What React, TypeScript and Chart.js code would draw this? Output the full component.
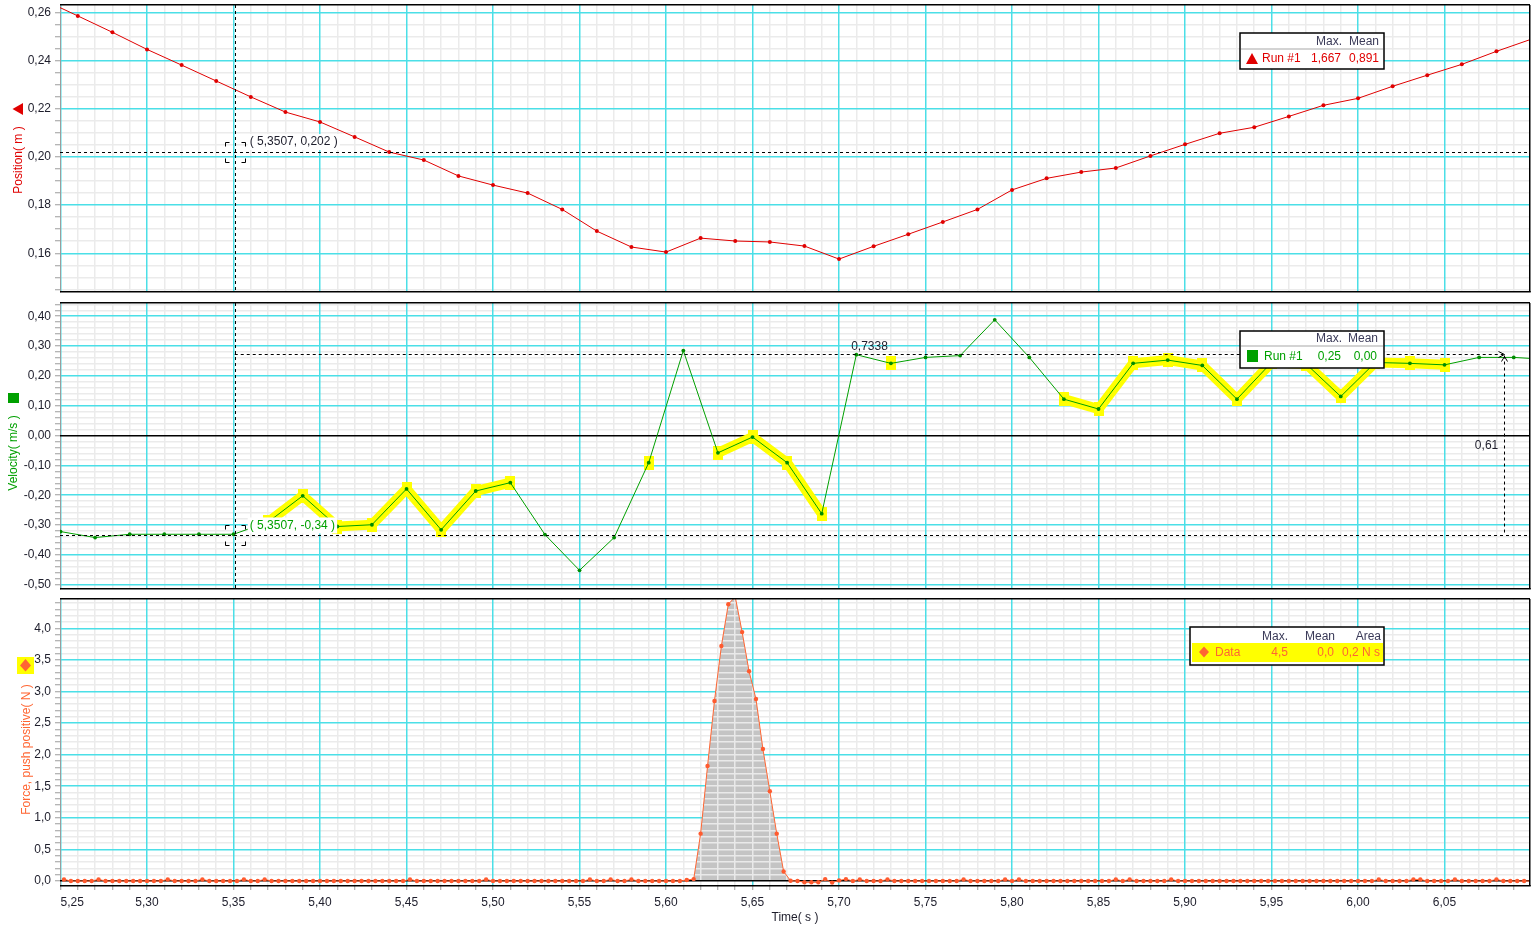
import React, { useEffect, useRef } from 'react';
import { Chart, registerables } from 'chart.js';

Chart.register(...registerables);

const FONT = '"Liberation Sans", Arial, Helvetica, sans-serif';
const TEXT = '#1d1d2b';
const HEAD = '#3a3a58';
const CYAN = '#4bdfe7';
const MINOR = '#ebebeb';
const TICKC = '#9c9c9c';
const RED = '#e00000';
const GREEN = '#00a000';
const GREEN_PT = '#008c00';
const ORANGE = '#ff6633';
const ORANGE_PT = '#ff5a2e';
const YELLOW = '#ffff00';

// shared time axis
const X_MIN = 5.2497;
const X_MAX = 6.0994;
const X_STEP = 0.01;
const X_MAJOR = 0.05;

// panel y ranges
const POS_MIN = 0.14394, POS_MAX = 0.26303, POS_STEP = 0.005, POS_MAJOR = 0.02;
const VEL_MIN = -0.5145, VEL_MAX = 0.4444, VEL_STEP = 0.02, VEL_MAJOR = 0.1;
const F_MIN = -0.079, F_MAX = 4.464, F_STEP = 0.1, F_MAJOR = 0.5;

// Position (m)
const POS_T = [5.24, 5.26, 5.28, 5.30, 5.32, 5.34, 5.36, 5.38, 5.40, 5.42, 5.44, 5.46, 5.48, 5.50, 5.52, 5.54, 5.56, 5.58, 5.60, 5.62, 5.64, 5.66, 5.68, 5.70, 5.72, 5.74, 5.76, 5.78, 5.80, 5.82, 5.84, 5.86, 5.88, 5.90, 5.92, 5.94, 5.96, 5.98, 6.00, 6.02, 6.04, 6.06, 6.08, 6.10];
const POS_M = [0.2652, 0.2585, 0.2517, 0.2446, 0.2381, 0.2315, 0.2249, 0.2186, 0.2145, 0.2083, 0.2020, 0.1987, 0.1921, 0.1883, 0.1850, 0.1782, 0.1692, 0.1626, 0.1605, 0.1663, 0.1651, 0.1647, 0.1630, 0.1576, 0.1629, 0.1679, 0.1730, 0.1782, 0.1863, 0.1911, 0.1937, 0.1954, 0.2004, 0.2052, 0.2098, 0.2123, 0.2168, 0.2214, 0.2243, 0.2293, 0.2339, 0.2384, 0.2438, 0.2488];

// Velocity (m/s)
const VEL_T = [5.25, 5.27, 5.29, 5.31, 5.33, 5.35, 5.37, 5.39, 5.41, 5.43, 5.45, 5.47, 5.49, 5.51, 5.53, 5.55, 5.57, 5.59, 5.61, 5.63, 5.65, 5.67, 5.69, 5.71, 5.73, 5.75, 5.77, 5.79, 5.81, 5.83, 5.85, 5.87, 5.89, 5.91, 5.93, 5.95, 5.97, 5.99, 6.01, 6.03, 6.05, 6.07, 6.09, 6.11];
const VEL_MS = [-0.322, -0.342, -0.331, -0.331, -0.331, -0.331, -0.29, -0.202, -0.305, -0.299, -0.179, -0.316, -0.186, -0.158, -0.332, -0.452, -0.342, -0.091, 0.285, -0.058, -0.005, -0.091, -0.262, 0.271, 0.242, 0.262, 0.268, 0.388, 0.262, 0.122, 0.089, 0.242, 0.253, 0.235, 0.122, 0.245, 0.24, 0.131, 0.245, 0.242, 0.237, 0.262, 0.262, 0.255];
const VEL_SELECTED = [0, 0, 0, 0, 0, 0, 1, 1, 1, 1, 1, 1, 1, 1, 0, 0, 0, 1, 0, 1, 1, 1, 1, 0, 1, 0, 0, 0, 0, 1, 1, 1, 1, 1, 1, 1, 1, 1, 1, 1, 1, 0, 0, 0];

// Force (N)
const FORCE_T = [
  5.252, 5.256, 5.26, 5.264, 5.268, 5.272, 5.276, 5.28, 5.284, 5.288,
  5.292, 5.296, 5.3, 5.304, 5.308, 5.312, 5.316, 5.32, 5.324, 5.328,
  5.332, 5.336, 5.34, 5.344, 5.348, 5.352, 5.356, 5.36, 5.364, 5.368,
  5.372, 5.376, 5.38, 5.384, 5.388, 5.392, 5.396, 5.4, 5.404, 5.408,
  5.412, 5.416, 5.42, 5.424, 5.428, 5.432, 5.436, 5.44, 5.444, 5.448,
  5.452, 5.456, 5.46, 5.464, 5.468, 5.472, 5.476, 5.48, 5.484, 5.488,
  5.492, 5.496, 5.5, 5.504, 5.508, 5.512, 5.516, 5.52, 5.524, 5.528,
  5.532, 5.536, 5.54, 5.544, 5.548, 5.552, 5.556, 5.56, 5.564, 5.568,
  5.572, 5.576, 5.58, 5.584, 5.588, 5.592, 5.596, 5.6, 5.604, 5.608,
  5.612, 5.616, 5.62, 5.624, 5.628, 5.632, 5.636, 5.64, 5.644, 5.648,
  5.652, 5.656, 5.66, 5.664, 5.668, 5.672, 5.676, 5.68, 5.684, 5.688,
  5.692, 5.696, 5.7, 5.704, 5.708, 5.712, 5.716, 5.72, 5.724, 5.728,
  5.732, 5.736, 5.74, 5.744, 5.748, 5.752, 5.756, 5.76, 5.764, 5.768,
  5.772, 5.776, 5.78, 5.784, 5.788, 5.792, 5.796, 5.8, 5.804, 5.808,
  5.812, 5.816, 5.82, 5.824, 5.828, 5.832, 5.836, 5.84, 5.844, 5.848,
  5.852, 5.856, 5.86, 5.864, 5.868, 5.872, 5.876, 5.88, 5.884, 5.888,
  5.892, 5.896, 5.9, 5.904, 5.908, 5.912, 5.916, 5.92, 5.924, 5.928,
  5.932, 5.936, 5.94, 5.944, 5.948, 5.952, 5.956, 5.96, 5.964, 5.968,
  5.972, 5.976, 5.98, 5.984, 5.988, 5.992, 5.996, 6.0, 6.004, 6.008,
  6.012, 6.016, 6.02, 6.024, 6.028, 6.032, 6.036, 6.04, 6.044, 6.048,
  6.052, 6.056, 6.06, 6.064, 6.068, 6.072, 6.076, 6.08, 6.084, 6.088,
  6.092, 6.096, 6.1,
];
const FORCE_N = [
  0.025, 0, 0, 0, 0, 0.025, 0, 0, 0, 0,
  0, 0, 0, 0, 0, 0.025, 0, 0, 0, 0,
  0.025, 0, 0, 0, 0, 0, 0.025, 0, 0, 0.025,
  0, 0, 0, 0, 0, 0, 0, 0, 0, 0,
  0, 0, 0, 0, 0, 0, 0, 0, 0, 0,
  0.025, 0, 0, 0, 0, 0, 0, 0, 0, 0,
  0, 0.025, 0, 0, 0, 0, 0, 0, 0, 0,
  0, 0, 0, 0, 0, 0, 0.025, 0, 0, 0.025,
  0, 0, 0.025, 0, 0, 0, 0, 0, 0, 0,
  0.016, 0.03, 0.75, 1.82, 2.85, 3.72, 4.38, 4.5, 3.94, 3.32,
  2.88, 2.09, 1.42, 0.75, 0.15, 0.005, 0, -0.02, -0.02, -0.02,
  0.03, -0.025, 0.01, 0.03, 0, 0.025, 0, 0, 0, 0.025,
  0, 0, 0, 0, 0, 0, 0, 0, 0, 0,
  0.025, 0, 0, 0, 0, 0, 0.025, 0, 0.025, 0,
  0, 0, 0, 0, 0, 0, 0, 0, 0, 0,
  0, 0, 0.025, 0, 0.025, 0, 0, 0, 0, 0,
  0.025, 0, 0, 0, 0, 0, 0, 0, 0, 0,
  0, 0, 0, 0, 0, 0, 0, 0, 0, 0,
  0, 0, 0, 0, 0, 0, 0, 0, 0, 0,
  0.025, 0, 0, 0, 0, 0.025, 0.025, 0, 0, 0,
  0, 0.025, 0, 0, 0, 0, 0, 0.025, 0, 0,
  0, 0, 0,
];
const FILL_FROM = 5.616;
const FILL_TO = 5.672;

// cursor / delta annotations
const CURSOR_T = 5.3507;
const CURSOR_POS = 0.202;
const CURSOR_VEL = -0.335;
const DELTA_T = 0.7338;
const DELTA_V = 0.61;
const CURSOR_POS_LABEL = '( 5,3507, 0,202 )';
const CURSOR_VEL_LABEL = '( 5,3507, -0,34 )';
const DELTA_T_LABEL = '0,7338';
const DELTA_V_LABEL = '0,61';

// legends
const LEG_HEAD_2 = ['Max.', 'Mean'];
const LEG_HEAD_3 = ['Max.', 'Mean', 'Area'];
const LEG_POS = ['Run #1', '1,667', '0,891'];
const LEG_VEL = ['Run #1', '0,25', '0,00'];
const LEG_FORCE = ['Data', '4,5', '0,0', '0,2 N s'];

const TITLE_POS = 'Position( m )';
const TITLE_VEL = 'Velocity( m/s )';
const TITLE_FORCE = 'Force, push positive( N )';
const TITLE_TIME = 'Time( s )';

const isMult = (v: number, m: number) => Math.abs(v / m - Math.round(v / m)) < 1e-6;
const fmt = (v: number, d: number) => (Math.abs(v) < 1e-9 ? 0 : v).toFixed(d).replace('.', ',');
function stepTicks(min: number, max: number, step: number) {
  const out: { value: number }[] = [];
  const k0 = Math.ceil(min / step - 1e-6);
  const k1 = Math.floor(max / step + 1e-6);
  for (let k = k0; k <= k1; k++) out.push({ value: Number((k * step).toFixed(6)) });
  return out;
}
const font12 = { family: FONT, size: 12 };

function xScale(showLabels: boolean) {
  return {
    type: 'linear',
    position: 'bottom',
    bounds: 'data',
    min: X_MIN,
    max: X_MAX,
    afterBuildTicks: (s: any) => { s.ticks = stepTicks(X_MIN, X_MAX, X_STEP); },
    afterFit: (s: any) => {
      s.height = showLabels ? 45 : 0;
      s.paddingLeft = 0; s.paddingRight = 0; s.paddingTop = 0; s.paddingBottom = 0;
    },
    ticks: {
      display: showLabels, autoSkip: false, maxRotation: 0, minRotation: 0, align: 'inner',
      padding: 5, color: TEXT, font: font12,
      callback: (v: number) => (isMult(v, X_MAJOR) ? fmt(v, 2) : ''),
    },
    grid: {
      color: (c: any) => (c.tick && isMult(c.tick.value, X_MAJOR) ? CYAN : 'rgba(0,0,0,0)'),
      lineWidth: 1.5, drawTicks: showLabels, tickLength: 4, tickColor: TICKC, tickWidth: 1,
    },
    border: { display: false },
    title: { display: showLabels, text: TITLE_TIME, color: TEXT, font: font12, padding: { top: 0, bottom: 6 } },
  };
}

function yScale(min: number, max: number, step: number, major: number, dec: number) {
  return {
    type: 'linear',
    position: 'left',
    bounds: 'data',
    min, max,
    afterBuildTicks: (s: any) => { s.ticks = stepTicks(min, max, step); },
    afterFit: (s: any) => {
      s.width = 60;
      s.paddingLeft = 0; s.paddingRight = 0; s.paddingTop = 0; s.paddingBottom = 0;
    },
    ticks: {
      autoSkip: false, padding: 4, color: TEXT, font: font12,
      callback: (v: number) => (isMult(v, major) ? fmt(v, dec) : ''),
    },
    grid: {
      color: (c: any) => (c.tick && isMult(c.tick.value, major) && Math.abs(c.tick.value) > 1e-9 ? CYAN : 'rgba(0,0,0,0)'),
      lineWidth: 1.5, tickLength: 5, tickColor: TICKC, tickWidth: 1,
    },
    border: { display: true, color: TICKC, width: 1 },
  };
}

// ---------- drawing helpers ----------
function txt(ctx: CanvasRenderingContext2D, s: string, x: number, y: number, align: CanvasTextAlign, color: string) {
  ctx.font = `12px ${FONT}`;
  ctx.fillStyle = color;
  ctx.textAlign = align;
  ctx.textBaseline = 'middle';
  ctx.fillText(s, x, y);
}
function dashedLine(ctx: CanvasRenderingContext2D, x1: number, y1: number, x2: number, y2: number) {
  ctx.save();
  ctx.strokeStyle = '#000';
  ctx.lineWidth = 1;
  ctx.setLineDash([3, 3]);
  ctx.beginPath();
  if (x1 === x2) {
    const x = Math.round(x1) + 0.5;
    ctx.moveTo(x, y1); ctx.lineTo(x, y2);
  } else {
    const y = Math.round(y1) + 0.5;
    ctx.moveTo(x1, y); ctx.lineTo(x2, y);
  }
  ctx.stroke();
  ctx.restore();
}
function brackets(ctx: CanvasRenderingContext2D, cx: number, cy: number) {
  const x1 = Math.round(cx - 10) + 0.5, x2 = Math.round(cx + 10) + 0.5;
  const y1 = Math.round(cy - 10) + 0.5, y2 = Math.round(cy + 10) + 0.5;
  const L = 4;
  ctx.save();
  ctx.strokeStyle = '#000';
  ctx.lineWidth = 1;
  ctx.beginPath();
  ctx.moveTo(x1, y1 + L); ctx.lineTo(x1, y1); ctx.lineTo(x1 + L, y1);
  ctx.moveTo(x2 - L, y1); ctx.lineTo(x2, y1); ctx.lineTo(x2, y1 + L);
  ctx.moveTo(x1, y2 - L); ctx.lineTo(x1, y2); ctx.lineTo(x1 + L, y2);
  ctx.moveTo(x2 - L, y2); ctx.lineTo(x2, y2); ctx.lineTo(x2, y2 - L);
  ctx.stroke();
  ctx.restore();
}
function boxedLabel(ctx: CanvasRenderingContext2D, s: string, x: number, y: number, color: string) {
  ctx.font = `12px ${FONT}`;
  const w = ctx.measureText(s).width;
  ctx.fillStyle = '#fff';
  ctx.fillRect(x - 2, y - 8, w + 4, 16);
  txt(ctx, s, x, y, 'left', color);
}
function legendFrame(ctx: CanvasRenderingContext2D, x: number, y: number, w: number, h: number) {
  ctx.fillStyle = '#fff';
  ctx.fillRect(x, y, w, h);
  ctx.strokeStyle = '#000';
  ctx.lineWidth = 1.5;
  ctx.strokeRect(x, y, w, h);
}
function rotTitle(ctx: CanvasRenderingContext2D, s: string, x: number, y: number, color: string) {
  ctx.save();
  ctx.translate(x, y);
  ctx.rotate(-Math.PI / 2);
  txt(ctx, s, 0, 0, 'center', color);
  ctx.restore();
}

type Spec = {
  major: number;
  zero?: boolean;
  fill?: boolean;
  annotate?: (chart: any) => void;
  decorate?: (chart: any) => void;
};

function panelPlugin(spec: Spec) {
  return {
    id: 'panel',
    beforeDraw(chart: any) {
      const { ctx, chartArea: a, scales } = chart;
      const x = scales.x, y = scales.y;
      ctx.save();
      ctx.fillStyle = MINOR;
      for (const t of x.ticks) {
        if (isMult(t.value, X_MAJOR)) continue;
        const p = Math.round(x.getPixelForValue(t.value) - 0.75);
        ctx.fillRect(p, a.top, 1.5, a.bottom - a.top);
      }
      for (const t of y.ticks) {
        if (isMult(t.value, spec.major)) continue;
        const p = Math.round(y.getPixelForValue(t.value) - 0.75);
        ctx.fillRect(a.left, p, a.right - a.left, 1.5);
      }
      ctx.restore();
    },
    beforeDatasetsDraw(chart: any) {
      const { ctx, chartArea: a, scales } = chart;
      const x = scales.x, y = scales.y;
      if (spec.fill) {
        const meta = chart.getDatasetMeta(0);
        const pts = meta.data;
        let i0 = 0, i1 = 0;
        FORCE_T.forEach((t, i) => {
          if (Math.abs(t - FILL_FROM) < 1e-6) i0 = i;
          if (Math.abs(t - FILL_TO) < 1e-6) i1 = i;
        });
        const y0 = y.getPixelForValue(0);
        ctx.save();
        ctx.beginPath();
        ctx.rect(a.left, a.top, a.right - a.left, a.bottom - a.top);
        ctx.clip();
        ctx.beginPath();
        ctx.moveTo(pts[i0].x, y0);
        for (let i = i0; i <= i1; i++) ctx.lineTo(pts[i].x, pts[i].y);
        ctx.lineTo(pts[i1].x, y0);
        ctx.closePath();
        ctx.fillStyle = '#c4c4c4';
        ctx.fill();
        ctx.clip();
        ctx.fillStyle = '#e9e9e9';
        for (const t of x.ticks) {
          const p = Math.round(x.getPixelForValue(t.value) - 0.75);
          ctx.fillRect(p, a.top, 1.5, a.bottom - a.top);
        }
        for (const t of y.ticks) {
          const p = Math.round(y.getPixelForValue(t.value) - 0.75);
          ctx.fillRect(a.left, p, a.right - a.left, 1.5);
        }
        ctx.restore();
      }
      if (spec.zero) {
        const p = Math.round(y.getPixelForValue(0) - 0.75);
        ctx.fillStyle = '#000';
        ctx.fillRect(a.left, p, a.right - a.left, 1.5);
      }
    },
    afterDatasetsDraw(chart: any) {
      if (spec.annotate) spec.annotate(chart);
    },
    afterDraw(chart: any) {
      const { ctx, chartArea: a } = chart;
      if (spec.decorate) spec.decorate(chart);
      ctx.fillStyle = '#000';
      ctx.fillRect(a.left, Math.round(a.top - 0.75), a.right - a.left, 1.5);
      ctx.fillRect(a.left, Math.round(a.bottom - 0.75), a.right - a.left + 0.75, 1.5);
      ctx.fillRect(Math.round(a.right - 0.75), a.top, 1.5, a.bottom - a.top);
    },
  };
}

const baseOptions = (ySc: any, showX: boolean, padding: any) => ({
  responsive: false,
  animation: false,
  events: [],
  layout: { padding },
  plugins: { legend: { display: false }, tooltip: { enabled: false } },
  scales: { x: xScale(showX), y: ySc },
});

function positionConfig() {
  const spec: Spec = {
    major: POS_MAJOR,
    annotate(chart) {
      const { ctx, chartArea: a, scales: { x, y } } = chart;
      const cx = x.getPixelForValue(CURSOR_T);
      const cy = y.getPixelForValue(CURSOR_POS);
      dashedLine(ctx, cx, a.top, cx, a.bottom);
      dashedLine(ctx, a.left, cy, a.right, cy);
      brackets(ctx, cx, cy);
      boxedLabel(ctx, CURSOR_POS_LABEL, cx + 15, cy - 10, TEXT);
    },
    decorate(chart) {
      const { ctx } = chart;
      rotTitle(ctx, TITLE_POS, 18.5, 160, RED);
      ctx.fillStyle = RED;
      ctx.beginPath();
      ctx.moveTo(12.5, 109); ctx.lineTo(23, 103); ctx.lineTo(23, 115); ctx.closePath();
      ctx.fill();
      legendFrame(ctx, 1240, 33, 144, 36);
      ctx.fillStyle = '#a8a8a8';
      ctx.fillRect(1241, 48.5, 142, 1);
      txt(ctx, LEG_HEAD_2[0], 1342, 41.5, 'right', HEAD);
      txt(ctx, LEG_HEAD_2[1], 1379, 41.5, 'right', HEAD);
      ctx.fillStyle = RED;
      ctx.beginPath();
      ctx.moveTo(1246, 64); ctx.lineTo(1252, 53); ctx.lineTo(1258, 64); ctx.closePath();
      ctx.fill();
      txt(ctx, LEG_POS[0], 1262, 59, 'left', RED);
      txt(ctx, LEG_POS[1], 1341, 59, 'right', RED);
      txt(ctx, LEG_POS[2], 1379, 59, 'right', RED);
    },
  };
  return {
    type: 'line',
    data: {
      datasets: [{
        data: POS_T.map((t, i) => ({ x: t, y: POS_M[i] })),
        borderColor: RED, borderWidth: 1, tension: 0,
        pointRadius: 2, pointBackgroundColor: RED, pointBorderWidth: 0, clip: 0,
      }],
    },
    options: baseOptions(yScale(POS_MIN, POS_MAX, POS_STEP, POS_MAJOR, 2), false, { top: 5, bottom: 8, left: 0, right: 6 }),
    plugins: [panelPlugin(spec)],
  };
}

function velocityConfig(highlightImg: HTMLCanvasElement) {
  const spec: Spec = {
    major: VEL_MAJOR,
    zero: true,
    annotate(chart) {
      const { ctx, chartArea: a, scales: { x, y } } = chart;
      const cx = x.getPixelForValue(CURSOR_T);
      const cy = y.getPixelForValue(CURSOR_VEL);
      const ex = x.getPixelForValue(CURSOR_T + DELTA_T);
      const ty = y.getPixelForValue(CURSOR_VEL + DELTA_V);
      dashedLine(ctx, cx, a.top, cx, a.bottom);
      dashedLine(ctx, a.left, cy, a.right, cy);
      dashedLine(ctx, cx, ty, ex - 1, ty);
      dashedLine(ctx, ex, ty + 2, ex, cy);
      const ax = Math.round(ex) + 0.5, ay = Math.round(ty) + 0.5;
      ctx.save();
      ctx.strokeStyle = '#000';
      ctx.lineWidth = 1;
      ctx.beginPath();
      ctx.moveTo(ax - 6, ay - 3); ctx.lineTo(ax, ay); ctx.lineTo(ax - 6, ay + 3);
      ctx.moveTo(ax - 3, ay + 7); ctx.lineTo(ax, ay + 2); ctx.lineTo(ax + 3, ay + 7);
      ctx.stroke();
      ctx.restore();
      txt(ctx, DELTA_T_LABEL, (cx + ex) / 2, ty - 7, 'center', TEXT);
      txt(ctx, DELTA_V_LABEL, ex - 6, (ty + cy) / 2 + 1, 'right', TEXT);
      brackets(ctx, cx, cy);
      boxedLabel(ctx, CURSOR_VEL_LABEL, cx + 15, cy - 10, GREEN);
    },
    decorate(chart) {
      const { ctx } = chart;
      rotTitle(ctx, TITLE_VEL, 14, 156, GREEN);
      ctx.fillStyle = GREEN;
      ctx.fillRect(8, 96, 11, 10);
      legendFrame(ctx, 1240, 34, 144, 37);
      ctx.fillStyle = '#a8a8a8';
      ctx.fillRect(1241, 48.5, 142, 1);
      txt(ctx, LEG_HEAD_2[0], 1342, 42, 'right', HEAD);
      txt(ctx, LEG_HEAD_2[1], 1378, 42, 'right', HEAD);
      ctx.fillStyle = GREEN;
      ctx.fillRect(1247, 53, 11, 12);
      txt(ctx, LEG_VEL[0], 1264, 59.5, 'left', GREEN);
      txt(ctx, LEG_VEL[1], 1341, 59.5, 'right', GREEN);
      txt(ctx, LEG_VEL[2], 1377, 59.5, 'right', GREEN);
    },
  };
  return {
    type: 'line',
    data: {
      datasets: [
        {
          data: VEL_T.map((t, i) => ({ x: t, y: VEL_MS[i] })),
          borderColor: GREEN, borderWidth: 1, tension: 0, order: 0,
          pointRadius: 1.9, pointBackgroundColor: GREEN_PT, pointBorderWidth: 0, clip: 0,
        },
        {
          data: VEL_T.map((t, i) => ({ x: t, y: VEL_SELECTED[i] ? VEL_MS[i] : null })),
          borderColor: YELLOW, borderWidth: 10, tension: 0, order: 1, spanGaps: false,
          pointStyle: highlightImg, pointRadius: 6, pointBorderWidth: 0, clip: 0,
        },
      ],
    },
    options: baseOptions(yScale(VEL_MIN, VEL_MAX, VEL_STEP, VEL_MAJOR, 2), false, { top: 5, bottom: 8, left: 0, right: 6 }),
    plugins: [panelPlugin(spec)],
  };
}

function forceConfig() {
  const spec: Spec = {
    major: F_MAJOR,
    zero: true,
    fill: true,
    decorate(chart) {
      const { ctx } = chart;
      rotTitle(ctx, TITLE_FORCE, 26.5, 155.5, ORANGE);
      ctx.fillStyle = YELLOW;
      ctx.fillRect(17, 63, 17, 17);
      ctx.fillStyle = ORANGE;
      ctx.beginPath();
      ctx.moveTo(25.5, 65); ctx.lineTo(31, 71.5); ctx.lineTo(25.5, 77.5); ctx.lineTo(20, 71.5); ctx.closePath();
      ctx.fill();
      legendFrame(ctx, 1190, 33, 194, 38);
      txt(ctx, LEG_HEAD_3[0], 1288, 42.5, 'right', HEAD);
      txt(ctx, LEG_HEAD_3[1], 1335, 42.5, 'right', HEAD);
      txt(ctx, LEG_HEAD_3[2], 1381, 42.5, 'right', HEAD);
      ctx.fillStyle = YELLOW;
      ctx.fillRect(1192, 49, 191, 19);
      ctx.fillStyle = ORANGE;
      ctx.beginPath();
      ctx.moveTo(1204, 52.5); ctx.lineTo(1209, 58); ctx.lineTo(1204, 63.5); ctx.lineTo(1199, 58); ctx.closePath();
      ctx.fill();
      txt(ctx, LEG_FORCE[0], 1215, 59, 'left', ORANGE);
      txt(ctx, LEG_FORCE[1], 1288, 59, 'right', ORANGE);
      txt(ctx, LEG_FORCE[2], 1334, 59, 'right', ORANGE);
      txt(ctx, LEG_FORCE[3], 1380, 59, 'right', ORANGE);
    },
  };
  return {
    type: 'line',
    data: {
      datasets: [{
        data: FORCE_T.map((t, i) => ({ x: t, y: FORCE_N[i] })),
        borderColor: ORANGE, borderWidth: 1, tension: 0,
        pointRadius: 2.2, pointBackgroundColor: ORANGE_PT, pointBorderWidth: 0, clip: 0,
      }],
    },
    options: baseOptions(yScale(F_MIN, F_MAX, F_STEP, F_MAJOR, 1), true, { top: 5, bottom: 0, left: 0, right: 6 }),
    plugins: [panelPlugin(spec)],
  };
}

export default function App() {
  const r1 = useRef<HTMLCanvasElement>(null);
  const r2 = useRef<HTMLCanvasElement>(null);
  const r3 = useRef<HTMLCanvasElement>(null);

  useEffect(() => {
    const img = document.createElement('canvas');
    img.width = 10;
    img.height = 14;
    const g = img.getContext('2d')!;
    g.fillStyle = YELLOW;
    g.fillRect(0, 0, 10, 14);
    const charts = [
      new Chart(r1.current as HTMLCanvasElement, positionConfig() as any),
      new Chart(r2.current as HTMLCanvasElement, velocityConfig(img) as any),
      new Chart(r3.current as HTMLCanvasElement, forceConfig() as any),
    ];
    return () => charts.forEach((c) => c.destroy());
  }, []);

  return (
    <div style={{ position: 'fixed', left: 0, top: 0, width: 1536, height: 931, background: '#fff', overflow: 'hidden' }}>
      <canvas ref={r1} width={1536} height={300} style={{ position: 'absolute', left: 0, top: 0 }} />
      <canvas ref={r2} width={1536} height={300} style={{ position: 'absolute', left: 0, top: 297 }} />
      <canvas ref={r3} width={1536} height={337} style={{ position: 'absolute', left: 0, top: 594 }} />
    </div>
  );
}
